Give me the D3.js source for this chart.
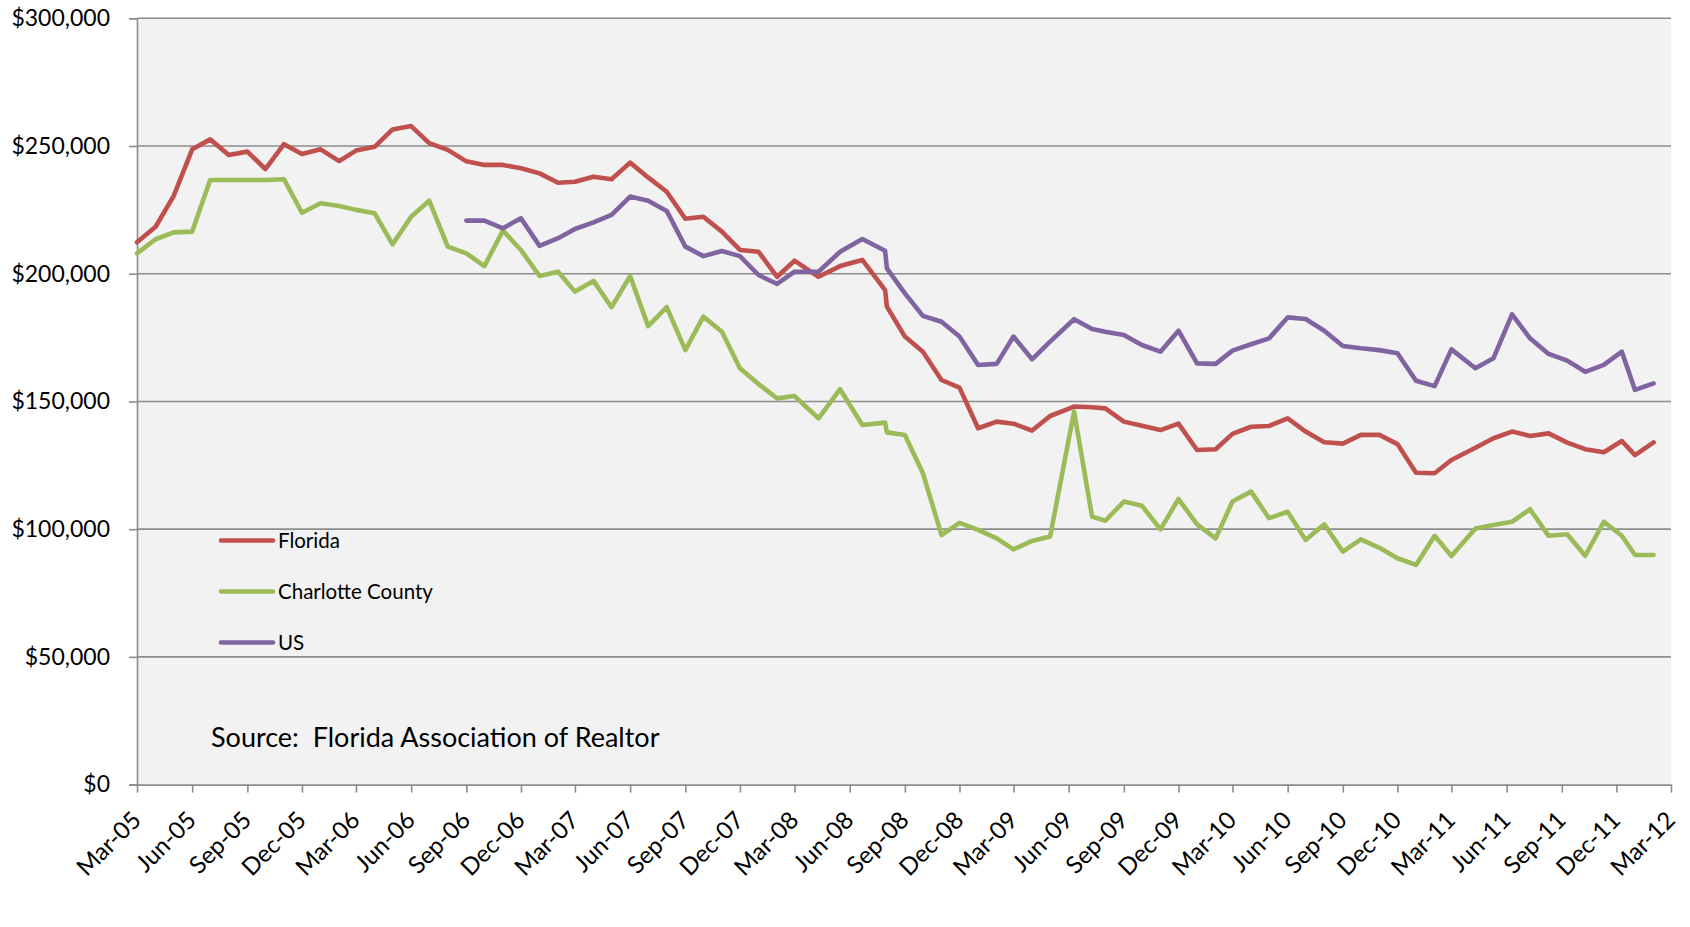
<!DOCTYPE html>
<html>
<head>
<meta charset="utf-8">
<script src="https://cdn.jsdelivr.net/npm/d3@7"></script>
<style>
  html, body { margin: 0; padding: 0; background: #ffffff; }
  svg { display: block; }
  text { font-family: Lato, "Open Sans", "DejaVu Sans", sans-serif; fill: #000; }
</style>
</head>
<body>
<svg id="chart" width="1690" height="927"></svg>
<script>
// ---- data ----
const dates = [
  "2005-03-01","2005-04-01","2005-05-01","2005-06-01","2005-07-01","2005-08-01","2005-09-01","2005-10-01","2005-11-01","2005-12-01",
  "2006-01-01","2006-02-01","2006-03-01","2006-04-01","2006-05-01","2006-06-01","2006-07-01","2006-08-01","2006-09-01","2006-10-01",
  "2006-11-01","2006-12-01","2007-01-01","2007-02-01","2007-03-01","2007-04-01","2007-05-01","2007-06-01","2007-07-01","2007-08-01",
  "2007-09-01","2007-10-01","2007-11-01","2007-12-01","2008-01-01","2008-02-01","2008-03-01","2008-04-10","2008-05-16","2008-06-22",
  "2008-07-30","2008-08-02","2008-09-01","2008-10-01","2008-11-01","2008-12-01","2009-01-01","2009-02-01","2009-03-01","2009-04-01",
  "2009-05-01","2009-06-10","2009-07-10","2009-08-01","2009-09-01","2009-10-01","2009-11-01","2009-12-01","2010-01-01","2010-02-01",
  "2010-03-01","2010-04-01","2010-05-01","2010-06-01","2010-07-01","2010-08-01","2010-09-01","2010-10-01","2010-11-01","2010-12-01",
  "2011-01-01","2011-02-01","2011-03-01","2011-04-10","2011-05-10","2011-06-10","2011-07-10","2011-08-10","2011-09-10","2011-10-10",
  "2011-11-10","2011-12-10","2012-01-01","2012-02-01"
];

const florida = [
  212300,218400,230400,248700,252600,246500,247800,241000,250700,246900,
  248700,244100,248200,249700,256500,257800,251100,248500,244000,242600,
  242600,241300,239300,235600,236000,238000,237000,243500,237700,232100,
  221500,222300,216500,209300,208600,198800,205100,198800,203000,205400,
  193600,187100,175400,169500,158400,155400,139500,142100,141300,138600,
  144300,148000,147700,147300,142100,140500,138800,141300,131000,131300,
  137300,140100,140400,143400,138200,134000,133500,136900,136900,133300,
  122100,121900,127100,131900,135600,138200,136500,137500,133900,131300,
  130100,134500,129000,134000
];

const charlotte = [
  208000,213500,216200,216500,236700,236700,236700,236700,237000,223900,
  227600,226500,225000,223700,211500,222300,228600,210600,208000,203000,
  216900,209300,199100,200800,193000,197200,186900,199100,179500,186900,
  170100,183200,177300,163000,156800,151200,152100,143400,154800,140800,
  141700,137900,136900,121900,97700,102500,99700,96400,92100,95400,
  97100,146000,104900,103300,110800,109200,99900,111800,101900,96400,
  110800,114700,104300,106800,95800,101900,91200,96000,92700,88600,
  86000,97400,89500,100300,101600,102900,107800,97400,98000,89600,
  102900,97400,89900,89900
];

const us = [
  null,null,null,null,null,null,null,null,null,null,
  null,null,null,null,null,null,null,null,220800,220800,
  217800,221700,210900,213900,217500,220100,223000,230200,228600,224600,
  210600,206900,208900,206900,199500,196000,200800,200800,208600,213600,
  209000,202100,192300,183500,181200,175400,164300,164700,175400,166500,
  173400,182200,178400,177300,176000,172100,169500,177700,164900,164700,
  169900,172400,174700,182900,182300,177700,171700,170800,170100,168900,
  158100,156000,170400,163000,166900,184100,174700,168600,166000,161600,
  164300,169500,154500,157100
];

const seriesNames = ["Florida", "Charlotte County", "US"];
const seriesColors = ["#C0504D", "#9BBB59", "#8064A2"];

const yTicks = [0, 50000, 100000, 150000, 200000, 250000, 300000];
const xTickLabels = [
  "Mar-05","Jun-05","Sep-05","Dec-05","Mar-06","Jun-06","Sep-06","Dec-06",
  "Mar-07","Jun-07","Sep-07","Dec-07","Mar-08","Jun-08","Sep-08","Dec-08",
  "Mar-09","Jun-09","Sep-09","Dec-09","Mar-10","Jun-10","Sep-10","Dec-10",
  "Mar-11","Jun-11","Sep-11","Dec-11","Mar-12"
];
const sourceText = "Source:  Florida Association of Realtor";

// ---- layout ----
const svg = d3.select("#chart");
const W = 1690, H = 927;
const plot = { left: 137, right: 1671, top: 18.3, bottom: 784.6 };

const parseISO = d3.timeParse("%Y-%m-%d");
const parseTick = d3.timeParse("%b-%y");
const xDates = dates.map(parseISO);
const tickDates = xTickLabels.map(parseTick);

const x = d3.scaleTime()
  .domain([tickDates[0], tickDates[tickDates.length - 1]])
  .range([plot.left, plot.right]);
const y = d3.scaleLinear().domain([0, 300000]).range([plot.bottom, plot.top]);

svg.append("rect").attr("x", 0).attr("y", 0).attr("width", W).attr("height", H).attr("fill", "#ffffff");

// plot area background
svg.append("rect")
  .attr("x", plot.left).attr("y", plot.top)
  .attr("width", plot.right - plot.left).attr("height", plot.bottom - plot.top)
  .attr("fill", "#F2F2F2");

// gridlines
svg.append("g").selectAll("line")
  .data(yTicks.filter(d => d > 0))
  .join("line")
  .attr("x1", plot.left).attr("x2", plot.right)
  .attr("y1", d => y(d)).attr("y2", d => y(d))
  .attr("stroke", "#8C8C8C").attr("stroke-width", 1.6);

// y axis
const fmt = d => "$" + d3.format(",")(d);
const yAxis = svg.append("g")
  .attr("transform", `translate(${plot.left},0)`)
  .call(d3.axisLeft(y).tickValues(yTicks).tickFormat(fmt).tickSize(8).tickPadding(19));
yAxis.select(".domain").attr("stroke", "#8C8C8C").attr("stroke-width", 1.6);
yAxis.selectAll(".tick line").attr("stroke", "#8C8C8C").attr("stroke-width", 1.6);
yAxis.selectAll(".tick text")
  .attr("font-size", 23)
  .style("font-family", "Lato, 'Open Sans', sans-serif")
  .attr("fill", "#000");

// x axis
const xAxis = svg.append("g")
  .attr("transform", `translate(0,${plot.bottom})`)
  .call(d3.axisBottom(x).tickValues(tickDates).tickFormat((d, i) => xTickLabels[i]).tickSize(8).tickSizeOuter(0));
xAxis.select(".domain").attr("stroke", "#8C8C8C").attr("stroke-width", 1.6);
xAxis.selectAll(".tick line").attr("stroke", "#8C8C8C").attr("stroke-width", 1.6);
xAxis.selectAll(".tick text")
  .attr("font-size", 24)
  .style("font-family", "Lato, 'Open Sans', sans-serif")
  .attr("fill", "#000")
  .attr("text-anchor", "end")
  .attr("x", 0).attr("y", 0)
  .attr("dy", "0")
  .attr("transform", "translate(5,37) rotate(-45)");

// lines
const allSeries = [florida, charlotte, us];
const line = d3.line()
  .defined(d => d.v !== null)
  .x(d => x(d.date))
  .y(d => y(d.v));

allSeries.forEach((vals, si) => {
  const pts = vals.map((v, i) => ({ date: xDates[i], v: v }));
  svg.append("path")
    .datum(pts)
    .attr("d", line)
    .attr("fill", "none")
    .attr("stroke", seriesColors[si])
    .attr("stroke-width", 4.6)
    .attr("stroke-linejoin", "round")
    .attr("stroke-linecap", "round");
});

// legend
const legend = svg.append("g").attr("transform", "translate(221,540.5)");
seriesNames.forEach((name, i) => {
  const g = legend.append("g").attr("transform", `translate(0,${i * 51})`);
  g.append("line")
    .attr("x1", 0).attr("x2", 52).attr("y1", 0).attr("y2", 0)
    .attr("stroke", seriesColors[i]).attr("stroke-width", 4.6)
    .attr("stroke-linecap", "round");
  g.append("text")
    .attr("x", 57).attr("y", 7.5)
    .attr("font-size", 20.5)
    .text(name);
});

// source note
svg.append("text")
  .attr("x", 211).attr("y", 747)
  .attr("font-size", 27)
  .attr("xml:space", "preserve")
  .style("white-space", "pre")
  .text(sourceText);
</script>
</body>
</html>
